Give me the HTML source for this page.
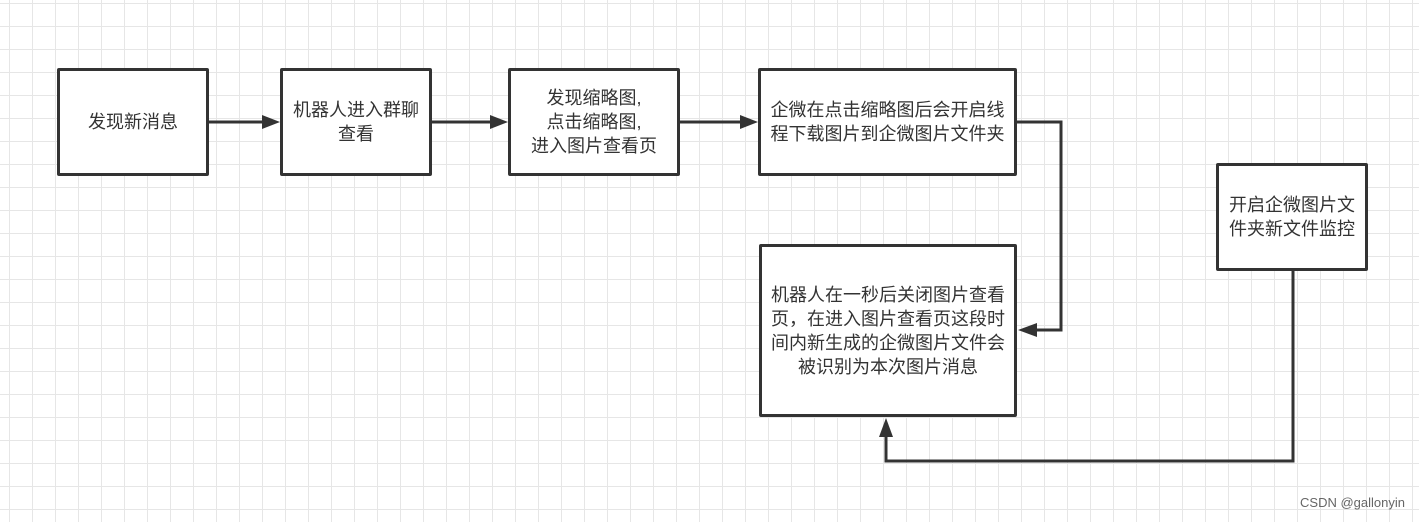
<!DOCTYPE html>
<html><head><meta charset="utf-8"><style>
body{margin:0;width:1419px;height:522px;overflow:hidden;background:#fff;
background-image:linear-gradient(#e6e6e6 1px,transparent 1px),linear-gradient(90deg,#e6e6e6 1px,transparent 1px);
background-size:23px 23px;background-position:9px 3px;font-family:"Liberation Sans","Noto Sans CJK SC",sans-serif;}
.b{position:absolute;box-sizing:border-box;border:3px solid #333;background:#fff;display:flex;align-items:center;justify-content:center;text-align:center;font-size:18px;line-height:24px;color:#333;border-radius:2px;padding:0 8px}
svg{position:absolute;left:0;top:0}
.w{position:absolute;right:14px;bottom:12px;font-size:13px;color:#666}
</style></head><body>
<svg width="1419" height="522">
<g stroke="#333" stroke-width="3" fill="none">
<line x1="208" y1="122" x2="265" y2="122"/>
<line x1="431" y1="122" x2="493" y2="122"/>
<line x1="679" y1="122" x2="743" y2="122"/>
<polyline points="1016,122 1061,122 1061,330 1034,330"/>
<polyline points="1293,270 1293,461 886,461 886,434"/>
</g>
<g fill="#333">
<polygon points="280,122 262,115 262,129"/>
<polygon points="508,122 490,115 490,129"/>
<polygon points="758,122 740,115 740,129"/>
<polygon points="1018,330 1037,323 1037,337"/>
<polygon points="886,418 879,437 893,437"/>
</g>
</svg>
<div class="b" style="left:57px;top:68px;width:152px;height:108px">发现新消息</div>
<div class="b" style="left:280px;top:68px;width:152px;height:108px">机器人进入群聊查看</div>
<div class="b" style="left:508px;top:68px;width:172px;height:108px">发现缩略图,<br>点击缩略图,<br>进入图片查看页</div>
<div class="b" style="left:758px;top:68px;width:259px;height:108px">企微在点击缩略图后会开启线程下载图片到企微图片文件夹</div>
<div class="b" style="left:759px;top:244px;width:258px;height:173px">机器人在一秒后关闭图片查看页，在进入图片查看页这段时间内新生成的企微图片文件会被识别为本次图片消息</div>
<div class="b" style="left:1216px;top:163px;width:152px;height:108px">开启企微图片文件夹新文件监控</div>
<div class="w">CSDN @gallonyin</div>
</body></html>
